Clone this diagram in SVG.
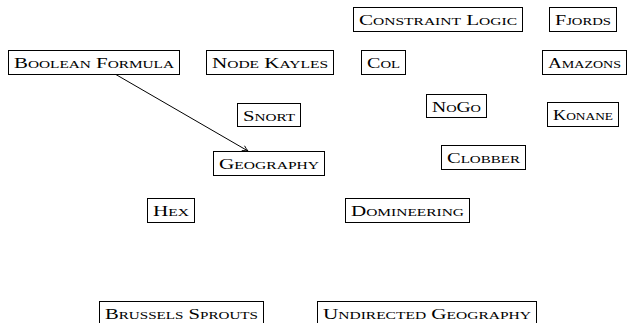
<svg xmlns="http://www.w3.org/2000/svg" width="629" height="323" viewBox="0 0 629 323">
<style>
.n rect{fill:#fff;stroke:#000;stroke-width:1}
text{font-family:"Liberation Serif","DejaVu Serif",serif;font-size:15px;font-variant:small-caps;text-anchor:middle;fill:#000}
.c{stroke:#000;stroke-width:1;fill:none}
</style>
<defs>
<marker id="ah" viewBox="0 0 10 10" refX="9" refY="5" markerWidth="8" markerHeight="8" orient="auto" markerUnits="userSpaceOnUse">
<path d="M2,1.5 Q6,4 9,5 Q6,6 2,8.5" fill="none" stroke="#000" stroke-width="1.1"/>
</marker>
</defs>
<rect width="629" height="323" fill="#fff" stroke="none"/>
<g id="connectors">
<line class="c" x1="115" y1="74" x2="248" y2="151" marker-end="url(#ah)"/>
</g>
<g id="constraint-logic" class="n"><rect x="353.5" y="7.5" width="169" height="24"/><text x="438" y="25" textLength="158" lengthAdjust="spacingAndGlyphs">Constraint Logic</text></g>
<g id="fjords" class="n"><rect x="549.5" y="7.5" width="67" height="24"/><text x="583" y="25" textLength="56" lengthAdjust="spacingAndGlyphs">Fjords</text></g>
<g id="boolean-formula" class="n"><rect x="8.5" y="50.5" width="171" height="24"/><text x="94" y="68" textLength="160" lengthAdjust="spacingAndGlyphs">Boolean Formula</text></g>
<g id="node-kayles" class="n"><rect x="206.5" y="50.5" width="127" height="24"/><text x="270" y="68" textLength="116" lengthAdjust="spacingAndGlyphs">Node Kayles</text></g>
<g id="col" class="n"><rect x="361.5" y="50.5" width="44" height="24"/><text x="383.5" y="68" textLength="33" lengthAdjust="spacingAndGlyphs">Col</text></g>
<g id="amazons" class="n"><rect x="542.5" y="50.5" width="84" height="24"/><text x="584.5" y="68" textLength="73" lengthAdjust="spacingAndGlyphs">Amazons</text></g>
<g id="snort" class="n"><rect x="237.5" y="103.5" width="63" height="23"/><text x="269" y="120.5" textLength="52" lengthAdjust="spacingAndGlyphs">Snort</text></g>
<g id="nogo" class="n"><rect x="426.5" y="94.5" width="60" height="23"/><text x="456.5" y="111.5" textLength="49" lengthAdjust="spacingAndGlyphs">NoGo</text></g>
<g id="konane" class="n"><rect x="547.5" y="102.5" width="71" height="24"/><text x="583" y="120" textLength="60" lengthAdjust="spacingAndGlyphs">Konane</text></g>
<g id="geography" class="n"><rect x="213.5" y="151.5" width="111" height="24"/><text x="269" y="169" textLength="100" lengthAdjust="spacingAndGlyphs">Geography</text></g>
<g id="clobber" class="n"><rect x="441.5" y="145.5" width="84" height="24"/><text x="483.5" y="163" textLength="73" lengthAdjust="spacingAndGlyphs">Clobber</text></g>
<g id="hex" class="n"><rect x="147.5" y="198.5" width="47" height="24"/><text x="171" y="216" textLength="36" lengthAdjust="spacingAndGlyphs">Hex</text></g>
<g id="domineering" class="n"><rect x="345.5" y="198.5" width="124" height="24"/><text x="407.5" y="216" textLength="113" lengthAdjust="spacingAndGlyphs">Domineering</text></g>
<g id="brussels-sprouts" class="n"><rect x="99.5" y="301.5" width="164" height="24"/><text x="181.5" y="319" textLength="153" lengthAdjust="spacingAndGlyphs">Brussels Sprouts</text></g>
<g id="undirected-geography" class="n"><rect x="317.5" y="301.5" width="219" height="24"/><text x="427" y="319" textLength="208" lengthAdjust="spacingAndGlyphs">Undirected Geography</text></g>
</svg>
